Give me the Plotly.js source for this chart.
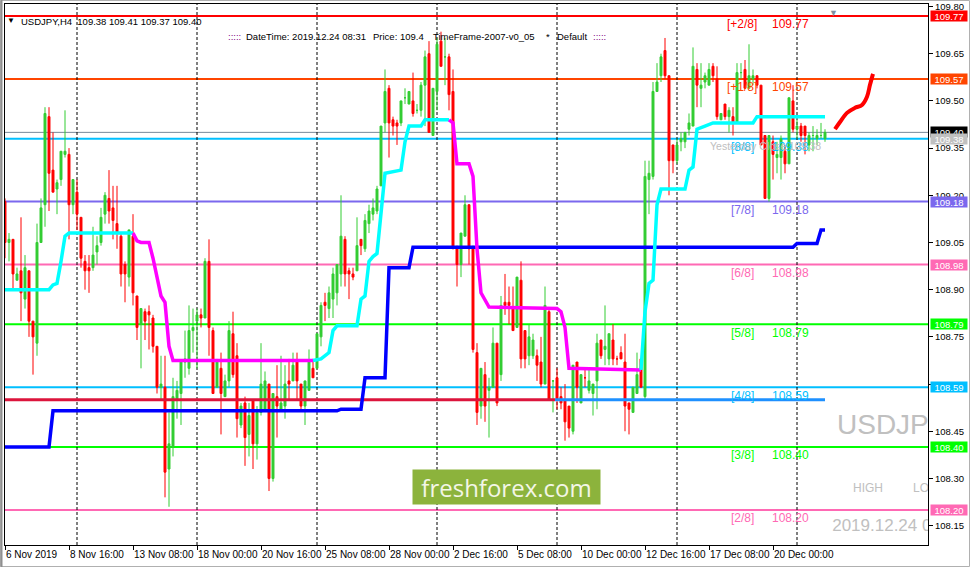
<!DOCTYPE html>
<html><head><meta charset="utf-8">
<script src="https://cdn.plot.ly/plotly-3.0.1.min.js"></script>
<style>html,body{margin:0;padding:0;background:#fff;overflow:hidden}#chart{width:970px;height:567px}</style>
</head><body><div id="chart"></div>
<script>
// ---------------- DATA ----------------
const openP = [109.18,109.05,109.06,108.93,108.96,108.87,108.96,108.80,108.73,109.05,
109.17,109.45,109.28,109.22,109.25,109.33,109.33,109.17,109.21,109.13,
108.99,108.97,108.97,109.02,109.05,109.14,109.19,109.16,109.11,109.07,
108.98,108.94,109.07,108.88,108.79,108.83,108.83,108.81,108.72,108.59,
108.59,108.33,108.40,108.55,108.57,108.67,108.65,108.77,108.80,108.82,
108.81,108.99,108.77,108.59,108.65,108.56,108.61,108.76,108.69,108.47,
108.54,108.44,108.55,108.41,108.51,108.52,108.60,108.30,108.56,108.52,
108.53,108.61,108.61,108.67,108.60,108.53,108.58,108.65,108.65,108.75,
108.86,108.84,108.87,108.89,108.95,109.06,108.96,108.95,108.96,109.06,
109.03,109.11,109.14,109.15,109.23,109.43,109.54,109.44,109.43,109.43,
109.51,109.49,109.50,109.47,109.47,109.55,109.65,109.39,109.53,109.69,
109.64,109.64,109.53,109.03,108.98,109.07,109.17,109.03,108.70,108.53,
108.63,108.58,108.59,108.73,108.63,108.86,108.86,108.84,108.78,108.93,
108.77,108.69,108.69,108.69,108.67,108.60,108.83,108.61,108.62,108.56,
108.55,108.53,108.45,108.67,108.54,108.62,108.58,108.57,108.61,108.74,
108.71,108.68,108.74,108.68,108.70,108.67,108.54,108.51,108.57,108.68,
108.56,109.25,109.26,109.53,109.58,109.66,109.58,109.36,109.31,109.37,
109.37,109.41,109.42,109.60,109.54,109.56,109.55,109.61,109.57,109.44,
109.49,109.45,109.45,109.43,109.59,109.60,109.54,109.57,109.58,109.55,
109.39,109.19,109.37,109.32,109.32,109.34,109.30,109.50,109.41,109.42,
109.42,109.36,109.39,109.38,109.39,109.38];
const highP = [109.19,109.08,109.06,108.97,109.13,109.01,108.96,108.80,109.11,109.19,
109.48,109.48,109.40,109.25,109.34,109.47,109.35,109.25,109.25,109.13,
109.01,109.01,109.10,109.07,109.16,109.21,109.28,109.23,109.23,109.08,
108.99,109.09,109.14,108.88,108.84,108.84,108.85,108.82,108.72,108.69,
108.69,108.51,108.62,108.61,108.67,108.77,108.85,108.84,108.84,108.84,
109.00,109.06,108.78,108.68,108.70,108.63,108.80,108.83,108.73,108.54,
108.56,108.54,108.55,108.53,108.73,108.64,108.60,108.57,108.66,108.69,
108.66,108.68,108.70,108.70,108.60,108.61,108.71,108.68,108.76,108.86,
108.89,108.91,108.97,108.98,109.20,109.07,108.97,108.97,109.13,109.06,
109.14,109.17,109.19,109.23,109.42,109.60,109.55,109.45,109.44,109.50,
109.54,109.53,109.59,109.49,109.56,109.66,109.69,109.54,109.70,109.72,
109.70,109.65,109.60,109.04,109.08,109.20,109.17,109.04,108.73,108.65,
108.67,108.62,108.78,108.73,108.88,108.95,108.91,108.91,108.94,108.99,
108.77,108.79,108.76,108.71,108.75,108.91,108.84,108.61,108.65,108.59,
108.60,108.53,108.66,108.67,108.63,108.65,108.65,108.60,108.76,108.74,
108.85,108.76,108.79,108.69,108.72,108.76,108.54,108.59,108.70,108.68,
109.31,109.31,109.56,109.62,109.65,109.70,109.58,109.36,109.38,109.40,
109.40,109.46,109.67,109.62,109.62,109.59,109.62,109.62,109.61,109.46,
109.49,109.48,109.48,109.62,109.62,109.63,109.68,109.60,109.58,109.55,
109.39,109.39,109.39,109.37,109.39,109.36,109.51,109.55,109.44,109.43,
109.42,109.40,109.42,109.41,109.43,109.41];
const lowP = [109.00,108.99,108.90,108.93,108.80,108.84,108.75,108.63,108.69,109.05,
109.10,109.15,109.21,109.14,109.23,109.32,109.06,109.14,109.09,108.97,
108.90,108.89,108.96,108.98,109.04,109.11,109.11,109.06,109.03,108.91,
108.86,108.91,108.85,108.74,108.65,108.74,108.71,108.70,108.57,108.55,
108.24,108.21,108.37,108.49,108.47,108.62,108.63,108.70,108.65,108.78,
108.81,108.69,108.57,108.59,108.44,108.56,108.59,108.62,108.43,108.46,
108.34,108.37,108.33,108.36,108.50,108.52,108.26,108.29,108.43,108.52,
108.49,108.55,108.61,108.55,108.52,108.47,108.58,108.62,108.65,108.72,
108.80,108.81,108.81,108.85,108.91,108.91,108.87,108.93,108.96,109.01,
109.02,109.08,109.12,109.14,109.23,109.40,109.32,109.39,109.36,109.42,
109.49,109.49,109.45,109.46,109.45,109.42,109.40,109.39,109.47,109.61,
109.55,109.47,109.03,108.91,108.94,109.07,108.98,108.70,108.47,108.49,
108.48,108.43,108.59,108.53,108.61,108.82,108.79,108.77,108.78,108.65,
108.65,108.66,108.68,108.61,108.59,108.60,108.55,108.51,108.52,108.52,
108.42,108.43,108.44,108.54,108.54,108.59,108.57,108.50,108.52,108.68,
108.66,108.66,108.66,108.66,108.68,108.45,108.44,108.51,108.57,108.59,
108.55,109.14,109.25,109.53,109.56,109.57,109.20,109.27,109.30,109.34,
109.35,109.39,109.42,109.48,109.48,109.54,109.55,109.56,109.44,109.44,
109.44,109.40,109.39,109.43,109.57,109.54,109.54,109.55,109.54,109.36,
109.19,109.18,109.25,109.27,109.25,109.27,109.30,109.40,109.38,109.37,
109.33,109.34,109.34,109.36,109.38,109.37];
const closeP = [109.05,109.06,108.95,108.95,108.89,108.97,108.80,108.75,109.05,109.16,
109.46,109.27,109.21,109.24,109.34,109.34,109.17,109.25,109.14,109.00,
108.96,108.96,109.01,109.04,109.13,109.20,109.15,109.12,109.08,108.95,
108.95,109.09,108.89,108.78,108.84,108.80,108.82,108.72,108.59,108.60,
108.32,108.41,108.56,108.58,108.67,108.68,108.77,108.78,108.82,108.81,
108.99,108.78,108.57,108.67,108.57,108.61,108.77,108.63,108.49,108.53,
108.43,108.50,108.41,108.51,108.60,108.61,108.30,108.57,108.53,108.54,
108.60,108.60,108.66,108.61,108.53,108.61,108.67,108.62,108.76,108.85,
108.85,108.89,108.95,108.98,109.07,108.95,108.95,108.94,109.04,109.04,
109.12,109.15,109.16,109.22,109.42,109.53,109.43,109.42,109.42,109.50,
109.51,109.53,109.46,109.47,109.55,109.64,109.40,109.54,109.68,109.61,
109.64,109.52,109.03,108.98,109.08,109.17,109.03,108.71,108.51,108.65,
108.53,108.59,108.73,108.54,108.85,108.85,108.85,108.77,108.94,108.68,
108.68,108.75,108.74,108.66,108.60,108.85,108.55,108.61,108.55,108.54,
108.48,108.46,108.66,108.59,108.63,108.62,108.61,108.60,108.73,108.69,
108.72,108.76,108.68,108.68,108.68,108.53,108.52,108.59,108.63,108.59,
109.26,109.27,109.53,109.56,109.64,109.58,109.31,109.31,109.36,109.38,
109.40,109.43,109.61,109.55,109.55,109.58,109.60,109.58,109.45,109.46,
109.45,109.47,109.43,109.59,109.59,109.54,109.58,109.58,109.55,109.36,
109.19,109.39,109.33,109.33,109.38,109.30,109.51,109.41,109.42,109.39,
109.39,109.39,109.39,109.39,109.39,109.40];

// trend indicator (cyan = up, magenta = down): vertex bar, value, direction of segment starting there
const trendBar = [0,11,12,13,14,15,16,32, 33,34,36,37,38,39,40,41,42,77,
  79,81,82,83,88,89,90,91,92,93,94,95,99,100,101,104,105,111,
  112,113,116,117,118,119,120,121,138,139,140,141,159,
  160,161,162,163,164,170,171,172,173,175,177,187,188,205];
const trendVal = [108.90,108.90,108.915,108.92,108.99,109.07,109.08,109.08,
  109.055,109.05,109.05,109.00,108.94,108.88,108.86,108.72,108.675,108.675,
  108.68,108.70,108.77,108.785,108.785,108.87,108.88,108.99,109.005,109.015,109.13,109.27,109.28,109.37,109.42,109.42,109.44,109.44,
  109.43,109.30,109.30,109.26,109.03,108.89,108.87,108.845,108.84,108.83,108.78,108.65,108.645,
  108.83,108.92,108.93,109.17,109.22,109.22,109.28,109.29,109.41,109.42,109.43,109.43,109.45,109.45];
const trendDir = [1,1,1,1,1,1,1,0, 0,0,0,0,0,0,0,0,0,1,
  1,1,1,1,1,1,1,1,1,1,1,1,1,1,1,1,1,0,
  0,0,0,0,0,0,0,0,0,0,0,0,1,
  1,1,1,1,1,1,1,1,1,1,1,1,1,1];

// slow step line (blue)
const blueBar = [0,11,12,83,84,89,90,95,96,101,102,197,198,203,204,205];
const blueVal = [108.40,108.40,108.515,108.515,108.52,108.52,108.62,108.62,108.97,108.97,109.035,109.035,109.047,109.047,109.09,109.09];

// pivot line (crimson, then dodger blue)
const pivotLevel = 108.55;
const pivotBars = [0, 137.5, 205];

// Murrey Math levels
const murreyLevels = [109.77,109.57,109.38,109.18,108.98,108.79,108.59,108.40,108.20];
const murreyNames  = ['[+2/8]','[+1/8]','[8/8]','[7/8]','[6/8]','[5/8]','[4/8]','[3/8]','[2/8]'];
const bidPrice = 109.40;
const yesterdayClose = 109.38;

// price-axis markers
const markerValues = [109.77,109.57,109.40,109.38,109.18,108.98,108.79,108.59,108.40,108.20];

// hand-drawn forecast curve
const forecastBar = [207.5,208.75,210.5,212.5,214.25,215.5,216.25,217.0];
const forecastVal = [109.41,109.433,109.462,109.478,109.487,109.513,109.551,109.586];

// week separators (bar index)
const weekSeparators = [18,48,78,108,138,168,198];

// axis ticks
const xTickBars = [0,16,32,48,64,80,96,112,128,144,160,176,192];
const xTickLabels = ['6 Nov 2019','8 Nov 16:00','13 Nov 08:00','18 Nov 00:00','20 Nov 16:00','25 Nov 08:00','28 Nov 00:00','2 Dec 16:00','5 Dec 08:00','10 Dec 00:00','12 Dec 16:00','17 Dec 08:00','20 Dec 00:00'];
const yTickVals = [108.15,108.30,108.45,108.60,108.75,108.90,109.05,109.20,109.35,109.50,109.65,109.80];
const yTickLabels = ['108.15','108.30','108.45','','108.75','108.90','109.05','109.20','109.35','109.50','109.65','109.80'];

// ---------------- STYLE ----------------
const murreyColors = ['#FF0000','#FF4500','#00BFFF','#7B68EE','#FF69B4','#00FF00','#00BFFF','#00FF00','#FF69B4'];
const markerColors = ['#FF0000','#FF4500','#000000','#C0C0C0','#7B68EE','#FF69B4','#00FF00','#00BFFF','#00FF00','#FF69B4'];
const FONT = 'Liberation Sans, Arial, sans-serif';
const W=970, H=567, ML=5, MR=42, MT=4, MB=22;
const PW=W-ML-MR, PH=H-MT-MB;
const pxX = px => (px-ML)/PW;
const pxY = py => 1-(py-MT)/PH;

const barIdx = openP.map((_,i)=>i);
const traces = [];

traces.push({type:'candlestick', x:barIdx, open:openP, high:highP, low:lowP, close:closeP,
  increasing:{line:{color:'#32CD32',width:1}, fillcolor:'#32CD32'},
  decreasing:{line:{color:'#FF0000',width:1}, fillcolor:'#FF0000'},
  whiskerwidth:0, hoverinfo:'skip', showlegend:false});

// pivot
traces.push({type:'scatter', mode:'lines', x:[pivotBars[0],pivotBars[1]], y:[pivotLevel,pivotLevel],
  line:{color:'#DC143C',width:3}, hoverinfo:'skip', showlegend:false});
traces.push({type:'scatter', mode:'lines', x:[pivotBars[1],pivotBars[2]], y:[pivotLevel,pivotLevel],
  line:{color:'#1E90FF',width:3}, hoverinfo:'skip', showlegend:false});

// blue
traces.push({type:'scatter', mode:'lines', x:blueBar, y:blueVal,
  line:{color:'#0000FF',width:3.5}, hoverinfo:'skip', showlegend:false});

// trend segments
(function(){
  let cur=null; const segs=[];
  for(let k=0;k<trendBar.length-1;k++){
    if(!cur || cur.dir!==trendDir[k]){ cur={dir:trendDir[k], x:[trendBar[k]], y:[trendVal[k]]}; segs.push(cur); }
    cur.x.push(trendBar[k+1]); cur.y.push(trendVal[k+1]);
  }
  segs.forEach(s=>traces.push({type:'scatter', mode:'lines', x:s.x, y:s.y,
    line:{color: s.dir ? '#00FFFF' : '#FF00FF', width:3.5}, hoverinfo:'skip', showlegend:false}));
})();

// forecast
traces.push({type:'scatter', mode:'lines', x:forecastBar, y:forecastVal,
  line:{color:'#FF0000',width:4, shape:'spline'}, hoverinfo:'skip', showlegend:false});

// info panel watermark texts (clipped at plot edge)
const wm = (txt,x,y,size)=>({type:'scatter', mode:'text', x:[x], y:[y], text:[txt], textposition:'middle right',
  textfont:{family:FONT, size:size, color:'#C0C0C0'}, cliponaxis:true, hoverinfo:'skip', showlegend:false});
traces.push(wm('USDJPY', 208.0, 108.463, 28));
traces.push(wm('HIGH', 212.0, 108.2665, 12));
traces.push(wm('LOW', 227.0, 108.2665, 12));
traces.push(wm('2019.12.24 08:31', 206.8, 108.146, 17));

// shapes
const shapes = [];
murreyLevels.forEach((lv,i)=>shapes.push({type:'line', xref:'paper', x0:0, x1:1, yref:'y', y0:lv, y1:lv,
  line:{color:murreyColors[i], width:2}, layer:'below'}));
shapes.push({type:'line', xref:'paper', x0:0, x1:1, yref:'y', y0:bidPrice, y1:bidPrice, line:{color:'#778899',width:1}, layer:'below'});
weekSeparators.forEach(b=>shapes.push({type:'line', xref:'x', x0:b, x1:b, yref:'paper', y0:0, y1:1,
  line:{color:'#000000', width:1, dash:'3px,2px'}, layer:'below'}));
// window frame
shapes.push({type:'rect', xref:'paper', yref:'paper', x0:pxX(0.5), x1:pxX(969.5), y0:pxY(566.5), y1:pxY(0.5),
  line:{color:'#B0B0B0', width:1}});
shapes.push({type:'line', xref:'paper', yref:'paper', x0:pxX(1.5), x1:pxX(1.5), y0:pxY(567), y1:pxY(0),
  line:{color:'#909090', width:2}});

// annotations
const ann = [];
murreyLevels.forEach((lv,i)=>{
  ann.push({xref:'x', yref:'y', x:184.25, y:lv, yshift:-8.5, text:murreyNames[i], showarrow:false, xanchor:'center',
    font:{family:FONT,size:12,color:murreyColors[i]}});
  ann.push({xref:'x', yref:'y', x:196.25, y:lv, yshift:-8.5, text:lv.toFixed(2), showarrow:false, xanchor:'center',
    font:{family:FONT,size:12,color:murreyColors[i]}});
});
ann.push({xref:'paper', yref:'y', x:pxX(708), y:yesterdayClose, yshift:-7.5, xanchor:'left', showarrow:false,
  text:'Yesterday Close '+yesterdayClose.toFixed(2), font:{family:FONT,size:10.5,color:'#BEBEBE'}});
markerValues.forEach((v,i)=>ann.push({xref:'paper', yref:'y', x:1, xshift:2, y:v, xanchor:'left', yanchor:'middle',
  showarrow:false, text:v.toFixed(2), bgcolor:markerColors[i], width:36, height:10, borderpad:0,
  font:{family:FONT,size:9.5,color:'#FFFFFF'}}));
// header
const hdrY1 = pxY(13.5), hdrY2 = pxY(28.5);
ann.push({xref:'paper',yref:'paper',x:pxX(11),y:hdrY1,xanchor:'center',showarrow:false,text:'▼',font:{family:FONT,size:8,color:'#000'}});
ann.push({xref:'paper',yref:'paper',x:pxX(19),y:hdrY1,xanchor:'left',showarrow:false,
  text:'USDJPY,H4  109.38 109.41 109.37 109.40',font:{family:FONT,size:9.5,color:'#000'}});
[[':::::',226,'#800080'],['DateTime: 2019.12.24 08:31',244,'#000'],['Price: 109.4',371,'#000'],
 ['TimeFrame-2007-v0_05',431,'#000'],['*',544,'#000'],['Default',555,'#000'],[':::::',591,'#800080']]
 .forEach(t=>ann.push({xref:'paper',yref:'paper',x:pxX(t[1]),y:hdrY2,xanchor:'left',showarrow:false,text:t[0],
   font:{family:FONT,size:9.5,color:t[2]}}));
ann.push({xref:'paper',yref:'paper',x:pxX(833),y:pxY(6),xanchor:'center',showarrow:false,text:'▼',font:{family:FONT,size:9,color:'#8090A0'}});
// freshforex badge
ann.push({xref:'paper',yref:'paper',x:pxX(506.5),y:pxY(487),xanchor:'center',yanchor:'middle',showarrow:false,
  text:'freshforex.com',bgcolor:'#8CB33C',width:187,height:34,borderpad:0,
  font:{family:'Open Sans, sans-serif',size:24,color:'#F3F6E6'}});

const layout = {
  width:W, height:H, margin:{l:ML,r:MR,t:MT,b:MB,pad:0},
  paper_bgcolor:'#FFFFFF', plot_bgcolor:'#FFFFFF', showlegend:false, hovermode:false,
  xaxis:{range:[0,230.75], showgrid:false, zeroline:false, showline:true, mirror:true, linecolor:'#000', linewidth:1,
    ticks:'outside', ticklen:4, tickcolor:'#000', tickvals:xTickBars, ticktext:xTickLabels, tickangle:0,
    ticklabelposition:'outside right', ticklabeloverflow:'allow', tickfont:{family:FONT,size:10,color:'#000'},
    rangeslider:{visible:false}, fixedrange:true},
  yaxis:{side:'right', range:[108.0885,109.808], showgrid:false, zeroline:false, showline:true, mirror:true,
    linecolor:'#000', linewidth:1, ticks:'outside', ticklen:4, tickcolor:'#000',
    tickvals:yTickVals, ticktext:yTickLabels, tickfont:{family:FONT,size:9.5,color:'#000'}, fixedrange:true},
  shapes:shapes, annotations:ann
};
Plotly.newPlot('chart', traces, layout, {staticPlot:true, displayModeBar:false});
</script></body></html>
